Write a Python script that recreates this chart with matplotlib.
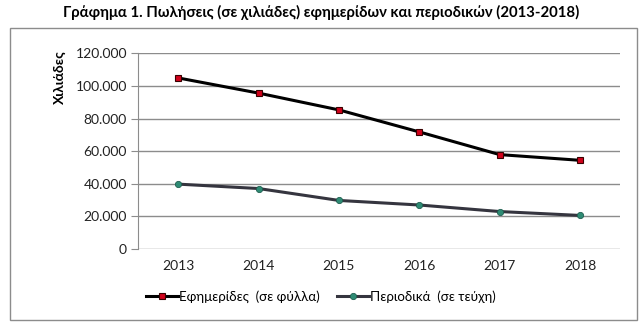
import matplotlib.pyplot as plt
from matplotlib.patches import Rectangle
from matplotlib.ticker import FuncFormatter

years = ['2013', '2014', '2015', '2016', '2017', '2018']
efimerides = [104900, 95600, 85300, 71800, 57900, 54400]
periodika = [39800, 37100, 29800, 27000, 23000, 20600]
y_ticks = [0, 20000, 40000, 60000, 80000, 100000, 120000]

plt.rcParams['font.family'] = ['Lato', 'DejaVu Sans']

fig = plt.figure(figsize=(6.42, 3.29), dpi=100)
ax = fig.add_axes([0.215, 0.243, 0.751, 0.595])

x = list(range(len(years)))
ax.plot(x, efimerides, color='black', lw=2.2, marker='s', ms=4.5,
        mfc='#d0021b', mec='#3a0000', mew=0.8, label='Εφημερίδες  (σε φύλλα)')
ax.plot(x, periodika, color='#35353f', lw=2.2, marker='o', ms=4.5,
        mfc='#2e8b74', mec='#1f5e50', mew=0.6, label='Περιοδικά  (σε τεύχη)')

ax.set_xlim(-0.5, 5.5)
ax.set_ylim(0, 120000)
ax.set_xticks(x)
ax.set_xticklabels(years)
ax.set_yticks(y_ticks)
ax.yaxis.set_major_formatter(FuncFormatter(lambda v, p: f'{int(v):,}'.replace(',', '.')))
ax.grid(axis='y', color='#8c8c8c', lw=1)
ax.set_axisbelow(True)
for s in ['top', 'right', 'bottom']:
    ax.spines[s].set_visible(False)
ax.spines['left'].set_color('#8c8c8c')
ax.tick_params(axis='x', length=0, pad=8, labelsize=10, colors='#222222')
ax.tick_params(axis='y', length=5, color='#8c8c8c', labelsize=10, colors='#222222', pad=3)
ax.set_ylabel('Χιλιάδες', fontsize=10, fontweight='bold', va='center', ha='center')
ax.yaxis.set_label_coords(-0.162, 0.88)

fig.suptitle('Γράφημα 1. Πωλήσεις (σε χιλιάδες) εφημερίδων και περιοδικών (2013-2018)',
             x=0.5, y=0.985, fontsize=10.7, fontweight='bold')

fig.legend(loc='center', bbox_to_anchor=(0.5, 0.098), ncol=2, frameon=False,
           fontsize=9.6, handlelength=2.4, handletextpad=0.1, columnspacing=1.3)

# outer chart frame
fig.patches.append(Rectangle((10 / 642, 1 - 320 / 329), 627 / 642, 292 / 329,
                             transform=fig.transFigure, fill=False,
                             edgecolor='#8c8c8c', lw=1))

fig.savefig('out.png', dpi=100)
